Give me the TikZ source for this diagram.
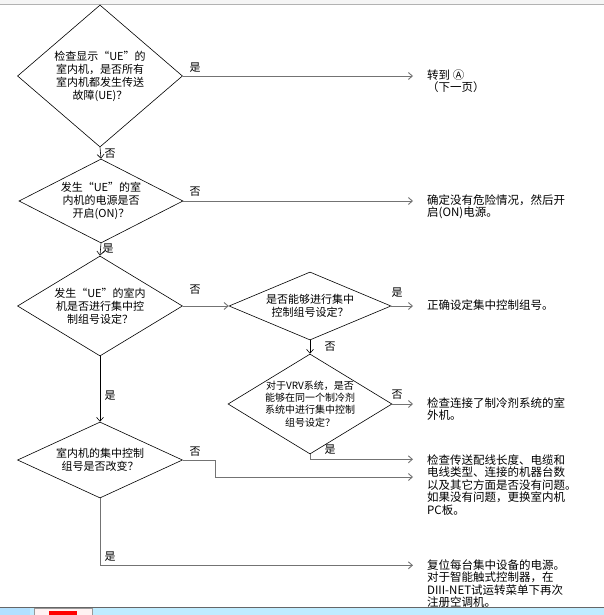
\documentclass[tikz,border=0pt]{standalone}
\usepackage{fontspec}
\newfontfamily\cjk{Noto Sans CJK SC}
\usetikzlibrary{shapes.geometric,arrows.meta}

\tikzset{
  decision/.style={draw, diamond, inner sep=0pt, line width=0.6pt},
  qtext/.style={font=\cjk\fontsize{11}{13}\selectfont, align=center, inner sep=0pt},
  qsmall/.style={font=\cjk\fontsize{10}{12.3}\selectfont, align=center, inner sep=0pt},
  outtext/.style={font=\cjk\fontsize{11.5}{12.5}\selectfont, align=left, anchor=north west, inner sep=0pt},
  ans/.style={font=\cjk\fontsize{11}{11}\selectfont, inner sep=0pt},
  vline/.style={draw=black, line width=0.6pt, -{Straight Barb[length=4pt,width=7pt]}},
  hline/.style={draw=black!55, line width=0.9pt, -{Straight Barb[length=4pt,width=7pt]}},
  toout/.style={hline, shorten >=14pt},
}

\begin{document}
\begin{tikzpicture}[x=1pt, y=-1pt]
\useasboundingbox (0,0) rectangle (604,615);
% top edge of the window
\fill[black!4] (0,0) rectangle (604,4);
\draw[black!30, line width=0.8pt] (0,4) -- (604,4);

% questions
\node[decision, minimum width=165pt, minimum height=142pt,
  label={[qtext]center:{检查显示“UE”的\\室内机，是否所有\\室内机都发生传送\\故障(UE)？}}] (d1) at (100,76) {};
\node[decision, minimum width=164pt, minimum height=84pt,
  label={[qtext]center:{发生“UE”的室\\内机的电源是否\\开启(ON)？}}] (d2) at (101,201) {};
\node[decision, minimum width=165pt, minimum height=100pt,
  label={[qtext]center:{发生“UE”的室内\\机是否进行集中控\\制组号设定？}}] (d3) at (100,306) {};
\node[decision, minimum width=165pt, minimum height=76pt,
  label={[qtext]center:{室内机的集中控制\\组号是否改变？}}] (d4) at (100,460) {};
\node[decision, minimum width=162pt, minimum height=68pt,
  label={[qtext]center:{是否能够进行集中\\控制组号设定？}}] (d5) at (310,306) {};
\node[decision, minimum width=164pt, minimum height=100pt,
  label={[qsmall]center:{对于VRV系统，是否\\能够在同一个制冷剂\\系统中进行集中控制\\组号设定？}}] (d6) at (310,404) {};

% results
\node[outtext] (o1) at (427,69.5) {转到 Ⓐ\\（下一页）};
\node[outtext] (o2) at (427,194.5) {确定没有危险情况，然后开\\启(ON)电源。};
\node[outtext] (o3) at (427,299.5) {正确设定集中控制组号。};
\node[outtext] (o4) at (427,397.5) {检查连接了制冷剂系统的室\\外机。};
\node[outtext] (o5) at (427,454.5) {检查传送配线长度、电缆和\\电线类型、连接的机器台数\\以及其它方面是否没有问题。\\如果没有问题，更换室内机\\PC板。};
\node[outtext] (o6) at (427,559.5) {复位每台集中设备的电源。\\对于智能触式控制器，在\\DIII-NET试运转菜单下再次\\注册空调机。};

% connectors
\draw[vline] (d1.south) -- (d2.north);
\draw[vline] (d2.south) -- (d3.north);
\draw[vline] (d3.south) -- (d4.north);
\draw[vline] (d5.south) -- (d6.north);
\draw[hline] (d3.east) -- (d5.west);
\draw[toout] (d1.east) -- (d1.east -| o1.west);
\draw[toout] (d2.east) -- (d2.east -| o2.west);
\draw[toout] (d5.east) -- (d5.east -| o3.west);
\draw[toout] (d6.east) -- (d6.east -| o4.west);
\draw[toout] (d6.south) -- ++(0,5) coordinate (c1) -- (c1 -| o5.west);
\draw[toout] (d4.east) -- ++(33,0) coordinate (c2) -- ++(0,17) coordinate (c3) -- (c3 -| o5.west);
\draw[toout] (d4.south) -- ++(0,67) coordinate (c4) -- (c4 -| o6.west);

% answers
\node[ans] (a1) at (195,68) {是};
\node[ans] (a2) at (110,154) {否};
\node[ans] (a3) at (195,192) {否};
\node[ans] (a4) at (108,249) {是};
\node[ans] (a5) at (195,290) {否};
\node[ans] (a6) at (110,396) {是};
\node[ans] (a7) at (397,293) {是};
\node[ans] (a8) at (330,347) {否};
\node[ans] (a9) at (397,395) {否};
\node[ans] (a10) at (330,450) {是};
\node[ans] (a11) at (195,452) {否};
\node[ans] (a12) at (110,557) {是};

% task bar
\fill[blue!30!cyan!25] (0,607) rectangle (604,615);
\draw[black!60, line width=0.8pt] (0,607) -- (604,607);
\fill[blue!40!cyan!30] (0,608) rectangle (30,615);
\draw[black!40, fill=red!5] (34,608) rectangle (92,615);
\fill[red] (49,611) rectangle (77,615);
\end{tikzpicture}
\end{document}
